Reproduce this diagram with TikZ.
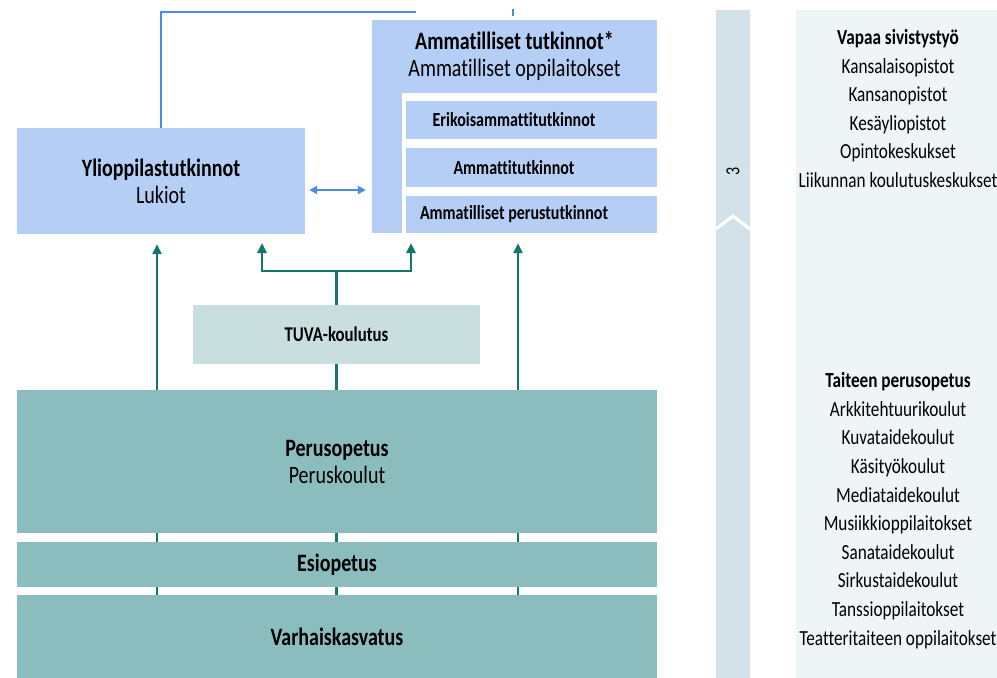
\documentclass[tikz,border=0pt]{standalone}
\usepackage{fontspec}
\setmainfont[FakeStretch=0.8,Ligatures=NoCommon]{Carlito}
\usetikzlibrary{arrows.meta,backgrounds}
\definecolor{lukioblue}{HTML}{B5CEF6}
\definecolor{pathblue}{HTML}{4A8BE3}
\definecolor{basicteal}{HTML}{8CBDBE}
\definecolor{tuvateal}{HTML}{C9DFDF}
\definecolor{arrteal}{HTML}{15756F}
\definecolor{barblue}{HTML}{D3E2E8}
\definecolor{panelgrey}{HTML}{EFF5F7}
\tikzset{
	box/.style={rectangle,inner sep=0pt,align=center},
	bluebox/.style={box,fill=lukioblue},
	tealbox/.style={box,fill=basicteal},
	big/.style={font=\fontsize{25}{27}\selectfont},
	small/.style={font=\fontsize{20}{20}\selectfont\bfseries},
	sublbl/.style={small,xshift=-17.5pt},
	panel/.style={align=center,font=\fontsize{21.5}{28.6}\selectfont},
	stem/.style={draw=arrteal,line width=2.4pt},
	flow/.style={stem,-{Triangle[length=10pt,width=9pt]},shorten >=10pt},
	swap/.style={draw=pathblue,line width=2pt,{Triangle[length=8pt,width=8pt]}-{Triangle[length=8pt,width=8pt]},shorten <=4pt,shorten >=6pt},
	route/.style={draw=pathblue,line width=1.6pt}
}
\begin{document}
\begin{tikzpicture}[x=1pt,y=-1pt]
	\useasboundingbox (0,0) rectangle (997,678);
	\fill[panelgrey] (796,10) rectangle (997,678);
	\fill[barblue] (716,10) rectangle (750,678);
	\draw[white,line width=3pt] (716,229) -- (733,216) -- (750,229);
	\node[rotate=90,font=\fontsize{20}{20}\selectfont] (lvl) at (733,171) {3};
	\node[panel] (vapaa) at (898,108.5) {\textbf{Vapaa sivistystyö}\\Kansalaisopistot\\Kansanopistot\\Kesäyliopistot\\Opintokeskukset\\Liikunnan koulutuskeskukset};
	\node[panel] (taide) at (898,510.5) {\textbf{Taiteen perusopetus}\\Arkkitehtuurikoulut\\Kuvataidekoulut\\Käsityökoulut\\Mediataidekoulut\\Musiikkioppilaitokset\\Sanataidekoulut\\Sirkustaidekoulut\\Tanssioppilaitokset\\Teatteritaiteen oppilaitokset};
	\node[bluebox,big,minimum width=288,minimum height=106] (yo) at (161,181) {\textbf{Ylioppilastutkinnot}\\Lukiot};
	\node[bluebox,minimum width=30,minimum height=213] (ammstrip) at (387,126.5) {};
	\node[bluebox,big,minimum width=285,minimum height=73] (ammtop) at (514.5,56.5) {\textbf{Ammatilliset tutkinnot*}\\Ammatilliset oppilaitokset};
	\node[bluebox,minimum width=251,minimum height=38,label={[sublbl]center:Erikoisammattitutkinnot}] (eri) at (531.5,120) {};
	\node[bluebox,minimum width=251,minimum height=39,label={[sublbl]center:Ammattitutkinnot}] (amt) at (531.5,167.5) {};
	\node[bluebox,minimum width=251,minimum height=37,label={[sublbl]center:Ammatilliset perustutkinnot}] (per) at (531.5,214.5) {};
	\node[box,fill=tuvateal,font=\fontsize{21}{21}\selectfont\bfseries,minimum width=287,minimum height=59] (tuva) at (336.5,334.5) {TUVA-koulutus};
	\node[tealbox,big,minimum width=640,minimum height=143] (peru) at (337,461.5) {\textbf{Perusopetus}\\Peruskoulut};
	\node[tealbox,big,minimum width=640,minimum height=45] (esi) at (337,564.5) {\textbf{Esiopetus}};
	\node[tealbox,big,minimum width=640,minimum height=83] (varh) at (337,636.5) {\textbf{Varhaiskasvatus}};
	\coordinate (s1) at (157,595);
	\coordinate (s2) at (336.5,595);
	\coordinate (s3) at (518,595);
	\coordinate (br) at (336.5,271);
	\coordinate (t1) at (262,233);
	\coordinate (t2) at (411,233);
	\coordinate (c1) at (416,12);
	\coordinate (c2) at (513,9);
	\coordinate (c3) at (513,16);
	\begin{pgfonlayer}{background}
	\draw[flow] (s1) -- (s1 |- yo.south);
	\draw[flow] (s3) -- (s3 |- per.south);
	\draw[stem] (s2) -- (tuva.south);
	\end{pgfonlayer}
	\draw[flow] (tuva.north) |- (br) -| (t1);
	\draw[flow] (br) -| (t2);
	\draw[swap] ([yshift=-9pt]yo.east) -- ([yshift=-9pt]yo.east -| ammstrip.west);
	\draw[route] (yo.north) |- (c1);
	\draw[route] (c2) -- (c3);
\end{tikzpicture}
\end{document}
